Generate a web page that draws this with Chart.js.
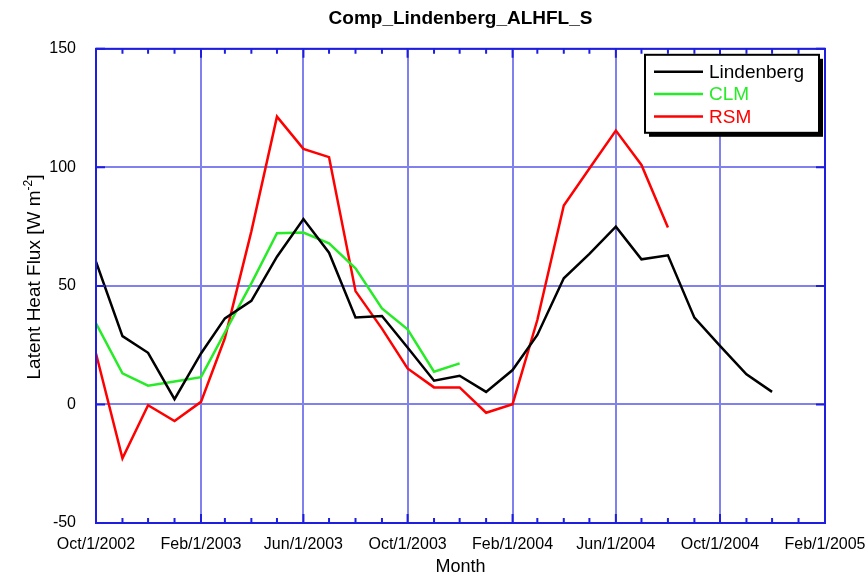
<!DOCTYPE html>
<html>
<head>
<meta charset="utf-8">
<script src="https://cdn.jsdelivr.net/npm/chart.js@4.4.0/dist/chart.umd.min.js"></script>
<style>
  body { margin: 0; background: #fff; }
</style>
</head>
<body>
<canvas id="fluxChart" width="866" height="579"></canvas>
<script>
// monthly values, first of month
const months = [
  '2002-10', '2002-11', '2002-12', '2003-01', '2003-02', '2003-03', '2003-04', '2003-05', '2003-06',
  '2003-07', '2003-08', '2003-09', '2003-10', '2003-11', '2003-12', '2004-01', '2004-02', '2004-03',
  '2004-04', '2004-05', '2004-06', '2004-07', '2004-08', '2004-09', '2004-10', '2004-11', '2004-12'
];
const lindenberg = [
  60.2, 28.8, 21.8, 2.2, 21.5, 36.3, 43.7, 62.3, 78.2,
  64.0, 36.7, 37.3, 24.0, 10.0, 12.1, 5.3, 14.5, 29.3,
  53.2, 63.5, 75.0, 61.2, 62.9, 36.6, 24.7, 12.7, 5.3
];
const clm = [
  34.2, 13.1, 7.9, 9.7, 11.5, 30.4, 51.1, 72.2, 72.5,
  68.0, 57.4, 40.5, 31.7, 13.8, 17.3
];
const rsm = [
  21.5, -22.7, -0.3, -7.0, 1.1, 28.0, 73.0, 121.4, 107.8,
  104.3, 47.8, 32.0, 15.2, 7.2, 7.2, -3.5, 0.1, 35.6,
  83.9, 99.5, 115.5, 101.0, 74.6
];
const xTickDates = ['2002-10-01', '2003-02-01', '2003-06-01', '2003-10-01', '2004-02-01', '2004-06-01', '2004-10-01', '2005-02-01'];
const xTickLabels = ['Oct/1/2002', 'Feb/1/2003', 'Jun/1/2003', 'Oct/1/2003', 'Feb/1/2004', 'Jun/1/2004', 'Oct/1/2004', 'Feb/1/2005'];
const yTicks = [-50, 0, 50, 100, 150];

const fontFamily = '"Liberation Sans", Arial, Helvetica, sans-serif';
const gridColor = 'rgb(128,128,238)';
const frameColor = 'rgb(30,30,225)';

// days since the first tick date
const dayOf = s => (Date.parse(s) - Date.parse(xTickDates[0])) / 86400000;
const toPoints = vals => vals.map((v, i) => ({ x: dayOf(months[i] + '-01'), y: v }));

// frame with inward tick marks (monthly minor ticks on top/bottom)
const framePlugin = {
  id: 'frame',
  afterDatasetsDraw(chart) {
    const { ctx, chartArea: a, scales } = chart;
    ctx.save();
    ctx.strokeStyle = frameColor;
    ctx.lineWidth = 2;
    ctx.beginPath();
    const start = new Date(Date.parse(xTickDates[0]));
    for (let m = 0; ; m++) {
      const d = new Date(Date.UTC(start.getUTCFullYear(), start.getUTCMonth() + m, 1));
      const v = (d - start) / 86400000;
      if (v > scales.x.max) break;
      const x = scales.x.getPixelForValue(v);
      const len = m % 4 === 0 ? 9 : 5;
      ctx.moveTo(x, a.bottom); ctx.lineTo(x, a.bottom - len);
      ctx.moveTo(x, a.top); ctx.lineTo(x, a.top + len);
    }
    yTicks.forEach(t => {
      const y = scales.y.getPixelForValue(t);
      ctx.moveTo(a.left, y); ctx.lineTo(a.left + 9, y);
      ctx.moveTo(a.right, y); ctx.lineTo(a.right - 9, y);
    });
    ctx.stroke();
    ctx.strokeRect(a.left, a.top, a.right - a.left, a.bottom - a.top);
    ctx.restore();
  }
};

// boxed legend with drop shadow, inside the plot
const legendPlugin = {
  id: 'boxLegend',
  afterDraw(chart) {
    const { ctx, chartArea: a } = chart;
    const w = 174, h = 78;
    const x0 = a.right - 180, y0 = a.top + 6;
    ctx.save();
    ctx.fillStyle = '#000';
    ctx.fillRect(x0 + 4, y0 + 4, w, h);
    ctx.fillStyle = '#fff';
    ctx.fillRect(x0, y0, w, h);
    ctx.strokeStyle = '#000';
    ctx.lineWidth = 2;
    ctx.strokeRect(x0, y0, w, h);
    ctx.font = '19px ' + fontFamily;
    ctx.textBaseline = 'middle';
    chart.data.datasets.forEach((ds, i) => {
      const y = y0 + 17 + i * 22.3;
      ctx.strokeStyle = ds.borderColor;
      ctx.lineWidth = 2.5;
      ctx.beginPath();
      ctx.moveTo(x0 + 9, y); ctx.lineTo(x0 + 58, y);
      ctx.stroke();
      ctx.fillStyle = ds.borderColor;
      ctx.fillText(ds.label, x0 + 64, y + 1);
    });
    ctx.restore();
  }
};

// y axis title with superscript
const yTitlePlugin = {
  id: 'yTitle',
  afterDraw(chart) {
    const { ctx } = chart;
    const main = 'Latent Heat Flux [W m', sup = '-2', tail = ']';
    ctx.save();
    ctx.translate(40, 277);
    ctx.rotate(-Math.PI / 2);
    ctx.fillStyle = '#000';
    ctx.textBaseline = 'alphabetic';
    ctx.font = '19px ' + fontFamily;
    const wMain = ctx.measureText(main).width;
    const wTail = ctx.measureText(tail).width;
    ctx.font = '12px ' + fontFamily;
    const wSup = ctx.measureText(sup).width;
    const total = wMain + wSup + wTail;
    let x = -total / 2;
    ctx.font = '19px ' + fontFamily;
    ctx.fillText(main, x, 0);
    x += wMain;
    ctx.font = '12px ' + fontFamily;
    ctx.fillText(sup, x, -8);
    x += wSup;
    ctx.font = '19px ' + fontFamily;
    ctx.fillText(tail, x, 0);
    ctx.restore();
  }
};

const ctx = document.getElementById('fluxChart').getContext('2d');
new Chart(ctx, {
  type: 'line',
  data: {
    datasets: [{
      label: 'Lindenberg',
      data: toPoints(lindenberg),
      borderColor: '#000000',
    }, {
      label: 'CLM',
      data: toPoints(clm),
      borderColor: 'rgb(40,235,40)',
    }, {
      label: 'RSM',
      data: toPoints(rsm),
      borderColor: '#ff0000',
    }]
  },
  options: {
    responsive: false,
    animation: false,
    layout: { padding: { right: 41 } },
    elements: {
      point: { radius: 0 },
      line: { borderWidth: 2.5, tension: 0, fill: false }
    },
    plugins: {
      legend: { display: false },
      tooltip: { enabled: false },
      title: {
        display: true,
        fullSize: false,
        text: 'Comp_Lindenberg_ALHFL_S',
        color: '#000',
        font: { family: fontFamily, size: 19, weight: 'bold' },
        padding: { top: 7, bottom: 19 }
      }
    },
    scales: {
      x: {
        type: 'linear',
        min: 0,
        max: dayOf(xTickDates[xTickDates.length - 1]),
        grid: { color: gridColor, lineWidth: 2, drawTicks: false },
        border: { display: false },
        ticks: {
          color: '#000',
          font: { family: fontFamily, size: 16 },
          padding: 12,
          maxRotation: 0,
          autoSkip: false,
          callback: (v, i) => xTickLabels[i]
        },
        afterBuildTicks: scale => {
          scale.ticks = xTickDates.map(d => ({ value: dayOf(d) }));
        },
        afterFit: scale => {
          scale.height = 56;
          scale.paddingLeft = 0;
          scale.paddingRight = 0;
        },
        title: {
          display: true,
          text: 'Month',
          color: '#000',
          font: { family: fontFamily, size: 18 },
          padding: { top: 0, bottom: 1 }
        }
      },
      y: {
        min: -50,
        max: 150,
        grid: { color: gridColor, lineWidth: 2, drawTicks: false },
        border: { display: false },
        ticks: {
          stepSize: 50,
          color: '#000',
          font: { family: fontFamily, size: 16 },
          padding: 20
        },
        afterFit: scale => { scale.width = 96; }
      }
    }
  },
  plugins: [framePlugin, legendPlugin, yTitlePlugin]
});
</script>
</body>
</html>
